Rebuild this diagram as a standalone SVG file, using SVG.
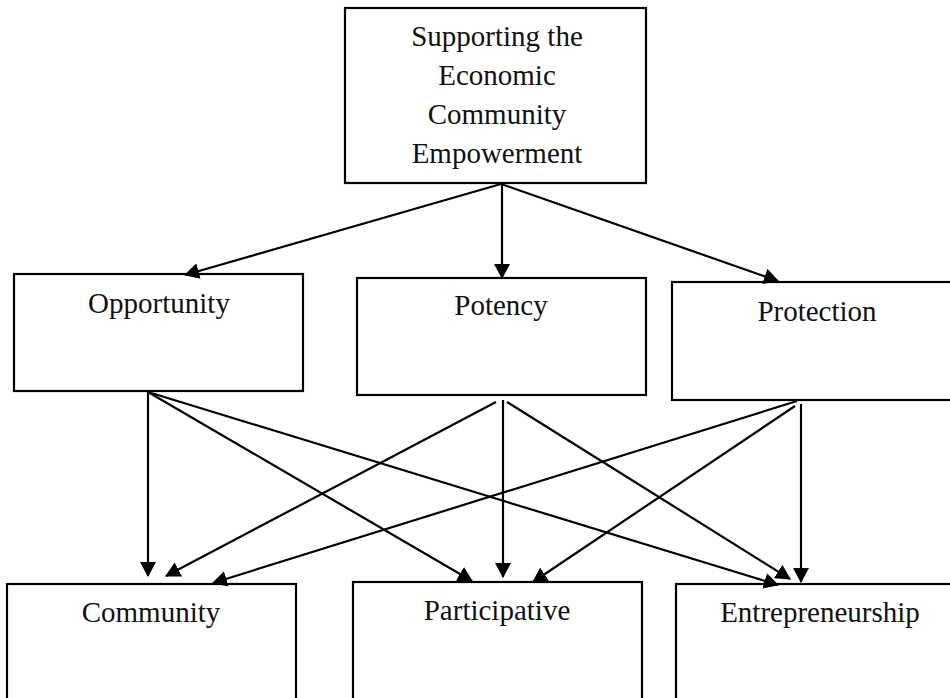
<svg xmlns="http://www.w3.org/2000/svg" width="950" height="698" viewBox="0 0 950 698">
<style>
.box{fill:#fff;stroke:#000;stroke-width:2.2}
.lbl{font-family:"Liberation Serif","Times New Roman",serif;font-size:29px;fill:#111;text-anchor:middle}
.con{stroke:#000;stroke-width:2.2;fill:none;marker-end:url(#ah)}
</style>
<defs>
<marker id="ah" viewBox="0 0 15 16" refX="14" refY="8" markerWidth="15" markerHeight="16" markerUnits="userSpaceOnUse" orient="auto">
<path d="M0,0 L15,8 L0,16 z" fill="#000"/>
</marker>
</defs>
<rect width="950" height="698" fill="#fff"/>
<g id="top">
<rect class="box" x="345" y="8" width="301" height="175"/>
<text class="lbl" x="497" y="46">Supporting the</text>
<text class="lbl" x="497" y="85">Economic</text>
<text class="lbl" x="497" y="124">Community</text>
<text class="lbl" x="497" y="163">Empowerment</text>
</g>
<g id="opportunity">
<rect class="box" x="14" y="274" width="289" height="117"/>
<text class="lbl" x="159" y="313">Opportunity</text>
</g>
<g id="potency">
<rect class="box" x="357" y="278" width="289" height="117"/>
<text class="lbl" x="501" y="315">Potency</text>
</g>
<g id="protection">
<rect class="box" x="672" y="282" width="290" height="118"/>
<text class="lbl" x="817" y="321">Protection</text>
</g>
<g id="community">
<rect class="box" x="7" y="584" width="289" height="130"/>
<text class="lbl" x="151" y="622">Community</text>
</g>
<g id="participative">
<rect class="box" x="353" y="582" width="289" height="130"/>
<text class="lbl" x="497" y="620">Participative</text>
</g>
<g id="entrepreneurship">
<rect class="box" x="676" y="584" width="288" height="130"/>
<text class="lbl" x="820" y="622">Entrepreneurship</text>
</g>
<g id="connectors">
<line class="con" x1="501" y1="184" x2="185" y2="275"/>
<line class="con" x1="502" y1="184" x2="502" y2="278"/>
<line class="con" x1="501" y1="184" x2="778" y2="281"/>
<line class="con" x1="148" y1="392" x2="148" y2="576"/>
<line class="con" x1="148" y1="392" x2="472" y2="581"/>
<line class="con" x1="148" y1="392" x2="778" y2="585"/>
<line class="con" x1="496" y1="402" x2="166" y2="576"/>
<line class="con" x1="503" y1="400" x2="503" y2="577"/>
<line class="con" x1="507" y1="402" x2="790" y2="579"/>
<line class="con" x1="797" y1="401" x2="213" y2="583"/>
<line class="con" x1="795" y1="406" x2="533" y2="582"/>
<line class="con" x1="801" y1="404" x2="801" y2="582"/>
</g>
</svg>
